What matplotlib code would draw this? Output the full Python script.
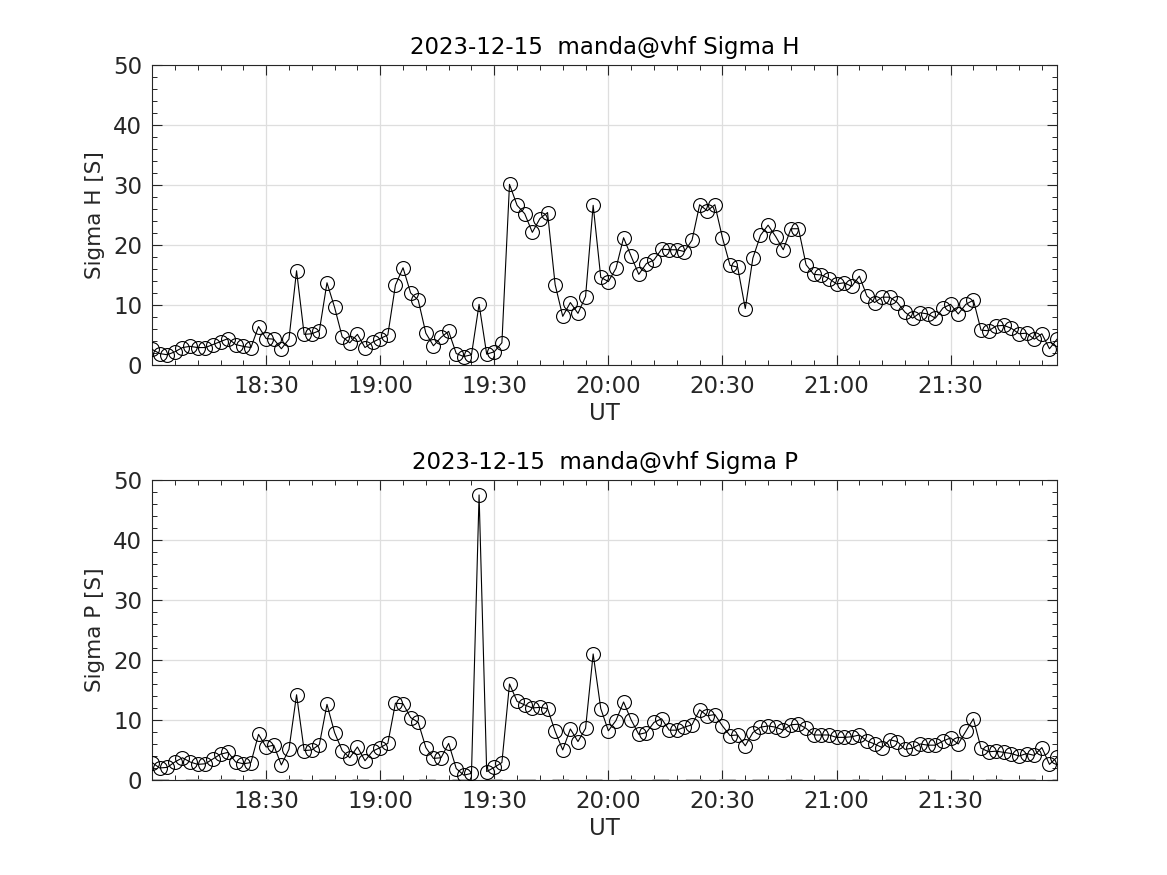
import numpy as np
import pandas as pd
import matplotlib
matplotlib.use("Agg")
import matplotlib.pyplot as plt
import matplotlib.dates as mdates

# time axis: one sample every 2 minutes, 18:00 - 21:58 UT
times = pd.date_range("2023-12-15 18:00", periods=120, freq="2min")
major_ticks = pd.date_range("2023-12-15 18:30", "2023-12-15 21:30", freq="30min")

sigma_h = [
    2.6, 1.9, 1.7, 2.2, 2.9, 3.1, 2.9, 2.9, 3.4, 3.9,
    4.4, 3.4, 3.1, 2.9, 6.4, 4.4, 4.3, 2.7, 4.3, 15.7,
    5.1, 5.2, 5.7, 13.7, 9.6, 4.7, 3.7, 5.1, 2.9, 3.8,
    4.4, 5.0, 13.3, 16.2, 12.0, 10.8, 5.3, 3.2, 4.6, 5.6,
    1.9, 1.4, 1.7, 10.1, 1.8, 2.2, 3.7, 30.1, 26.6, 25.2,
    22.1, 24.4, 25.4, 13.4, 8.1, 10.4, 8.6, 11.4, 26.6, 14.6,
    13.9, 16.1, 21.2, 18.1, 15.1, 16.9, 17.5, 19.3, 19.2, 19.2,
    18.9, 20.8, 26.7, 25.7, 26.7, 21.2, 16.6, 16.3, 9.4, 17.8,
    21.6, 23.3, 21.4, 19.2, 22.7, 22.7, 16.7, 15.1, 15.0, 14.4,
    13.5, 13.7, 13.1, 14.8, 11.5, 10.4, 11.3, 11.3, 10.4, 8.8,
    7.8, 8.7, 8.5, 7.8, 9.5, 10.1, 8.5, 10.1, 10.8, 5.8,
    5.7, 6.5, 6.6, 6.1, 5.2, 5.3, 4.3, 5.2, 2.7, 4.3,
]

sigma_p = [
    2.9, 2.0, 2.1, 3.0, 3.7, 3.0, 2.6, 2.7, 3.5, 4.3,
    4.6, 3.0, 2.7, 2.9, 7.6, 5.5, 5.8, 2.5, 5.1, 14.2,
    4.9, 5.0, 5.9, 12.6, 7.9, 4.9, 3.7, 5.5, 3.2, 4.8,
    5.4, 6.1, 12.8, 12.7, 10.4, 9.6, 5.4, 3.6, 3.7, 6.1,
    1.9, 0.8, 1.1, 47.5, 1.4, 2.1, 2.9, 16.0, 13.1, 12.5,
    12.0, 12.1, 11.9, 8.1, 5.0, 8.5, 6.4, 8.6, 21.0, 11.9,
    8.2, 9.9, 13.0, 10.0, 7.6, 7.9, 9.6, 10.2, 8.3, 8.3,
    8.8, 9.2, 11.7, 10.7, 10.9, 9.0, 7.4, 7.5, 5.7, 7.9,
    8.8, 9.0, 8.8, 8.3, 9.2, 9.3, 8.6, 7.5, 7.5, 7.5,
    7.1, 7.1, 7.2, 7.5, 6.5, 6.0, 5.4, 6.7, 6.4, 5.1,
    5.3, 6.0, 5.8, 5.8, 6.5, 7.0, 6.0, 8.1, 10.2, 5.3,
    4.7, 4.8, 4.6, 4.4, 4.0, 4.4, 4.1, 5.4, 2.6, 3.8,
]

panels = [
    ("2023-12-15  manda@vhf Sigma H", "Sigma H [S]", sigma_h),
    ("2023-12-15  manda@vhf Sigma P", "Sigma P [S]", sigma_p),
]

fs = 16.5
tick_col = "#262626"

fig = plt.figure(figsize=(11.67, 8.75), dpi=100)
axes_pos = [[0.1303, 0.5829, 0.7755, 0.3429],
            [0.1303, 0.1086, 0.7755, 0.3429]]

for k, (title, ylabel, vals) in enumerate(panels):
    ax = fig.add_axes(axes_pos[k])
    ax.plot(times, vals, "-", color="black", lw=0.8, marker="o",
            markersize=10, markerfacecolor="none", markeredgecolor="black",
            markeredgewidth=0.8, zorder=3)
    if k == 1:
        ax.axhline(0, color="#b0b0b0", lw=2, ls=(0, (6, 6)), zorder=1)

    ax.set_xlim(times[0], times[-1])
    ax.set_ylim(0, 50)
    ax.set_yticks([0, 10, 20, 30, 40, 50])
    ax.set_yticks(np.arange(0, 51, 2), minor=True)
    ax.set_xticks(major_ticks)
    ax.xaxis.set_minor_locator(mdates.MinuteLocator(byminute=range(0, 60, 6)))
    ax.xaxis.set_major_formatter(mdates.DateFormatter("%H:%M"))

    ax.grid(True, which="major", color="#dedede", lw=0.9)
    ax.set_axisbelow(True)
    ax.tick_params(which="both", direction="in", top=True, right=True,
                   labelsize=fs, labelcolor=tick_col, color="#262626")
    ax.tick_params(which="major", length=7, width=0.8, pad=7)
    ax.tick_params(which="minor", length=3.5, width=0.7)
    for sp in ax.spines.values():
        sp.set_linewidth(0.8)
        sp.set_color("#262626")

    ax.set_title(title, fontsize=fs, color="black", pad=8)
    ax.set_xlabel("UT", fontsize=fs, color=tick_col, labelpad=3)
    ax.set_ylabel(ylabel, fontsize=15.5, color=tick_col, labelpad=6)

fig.savefig("out.png", dpi=100)
